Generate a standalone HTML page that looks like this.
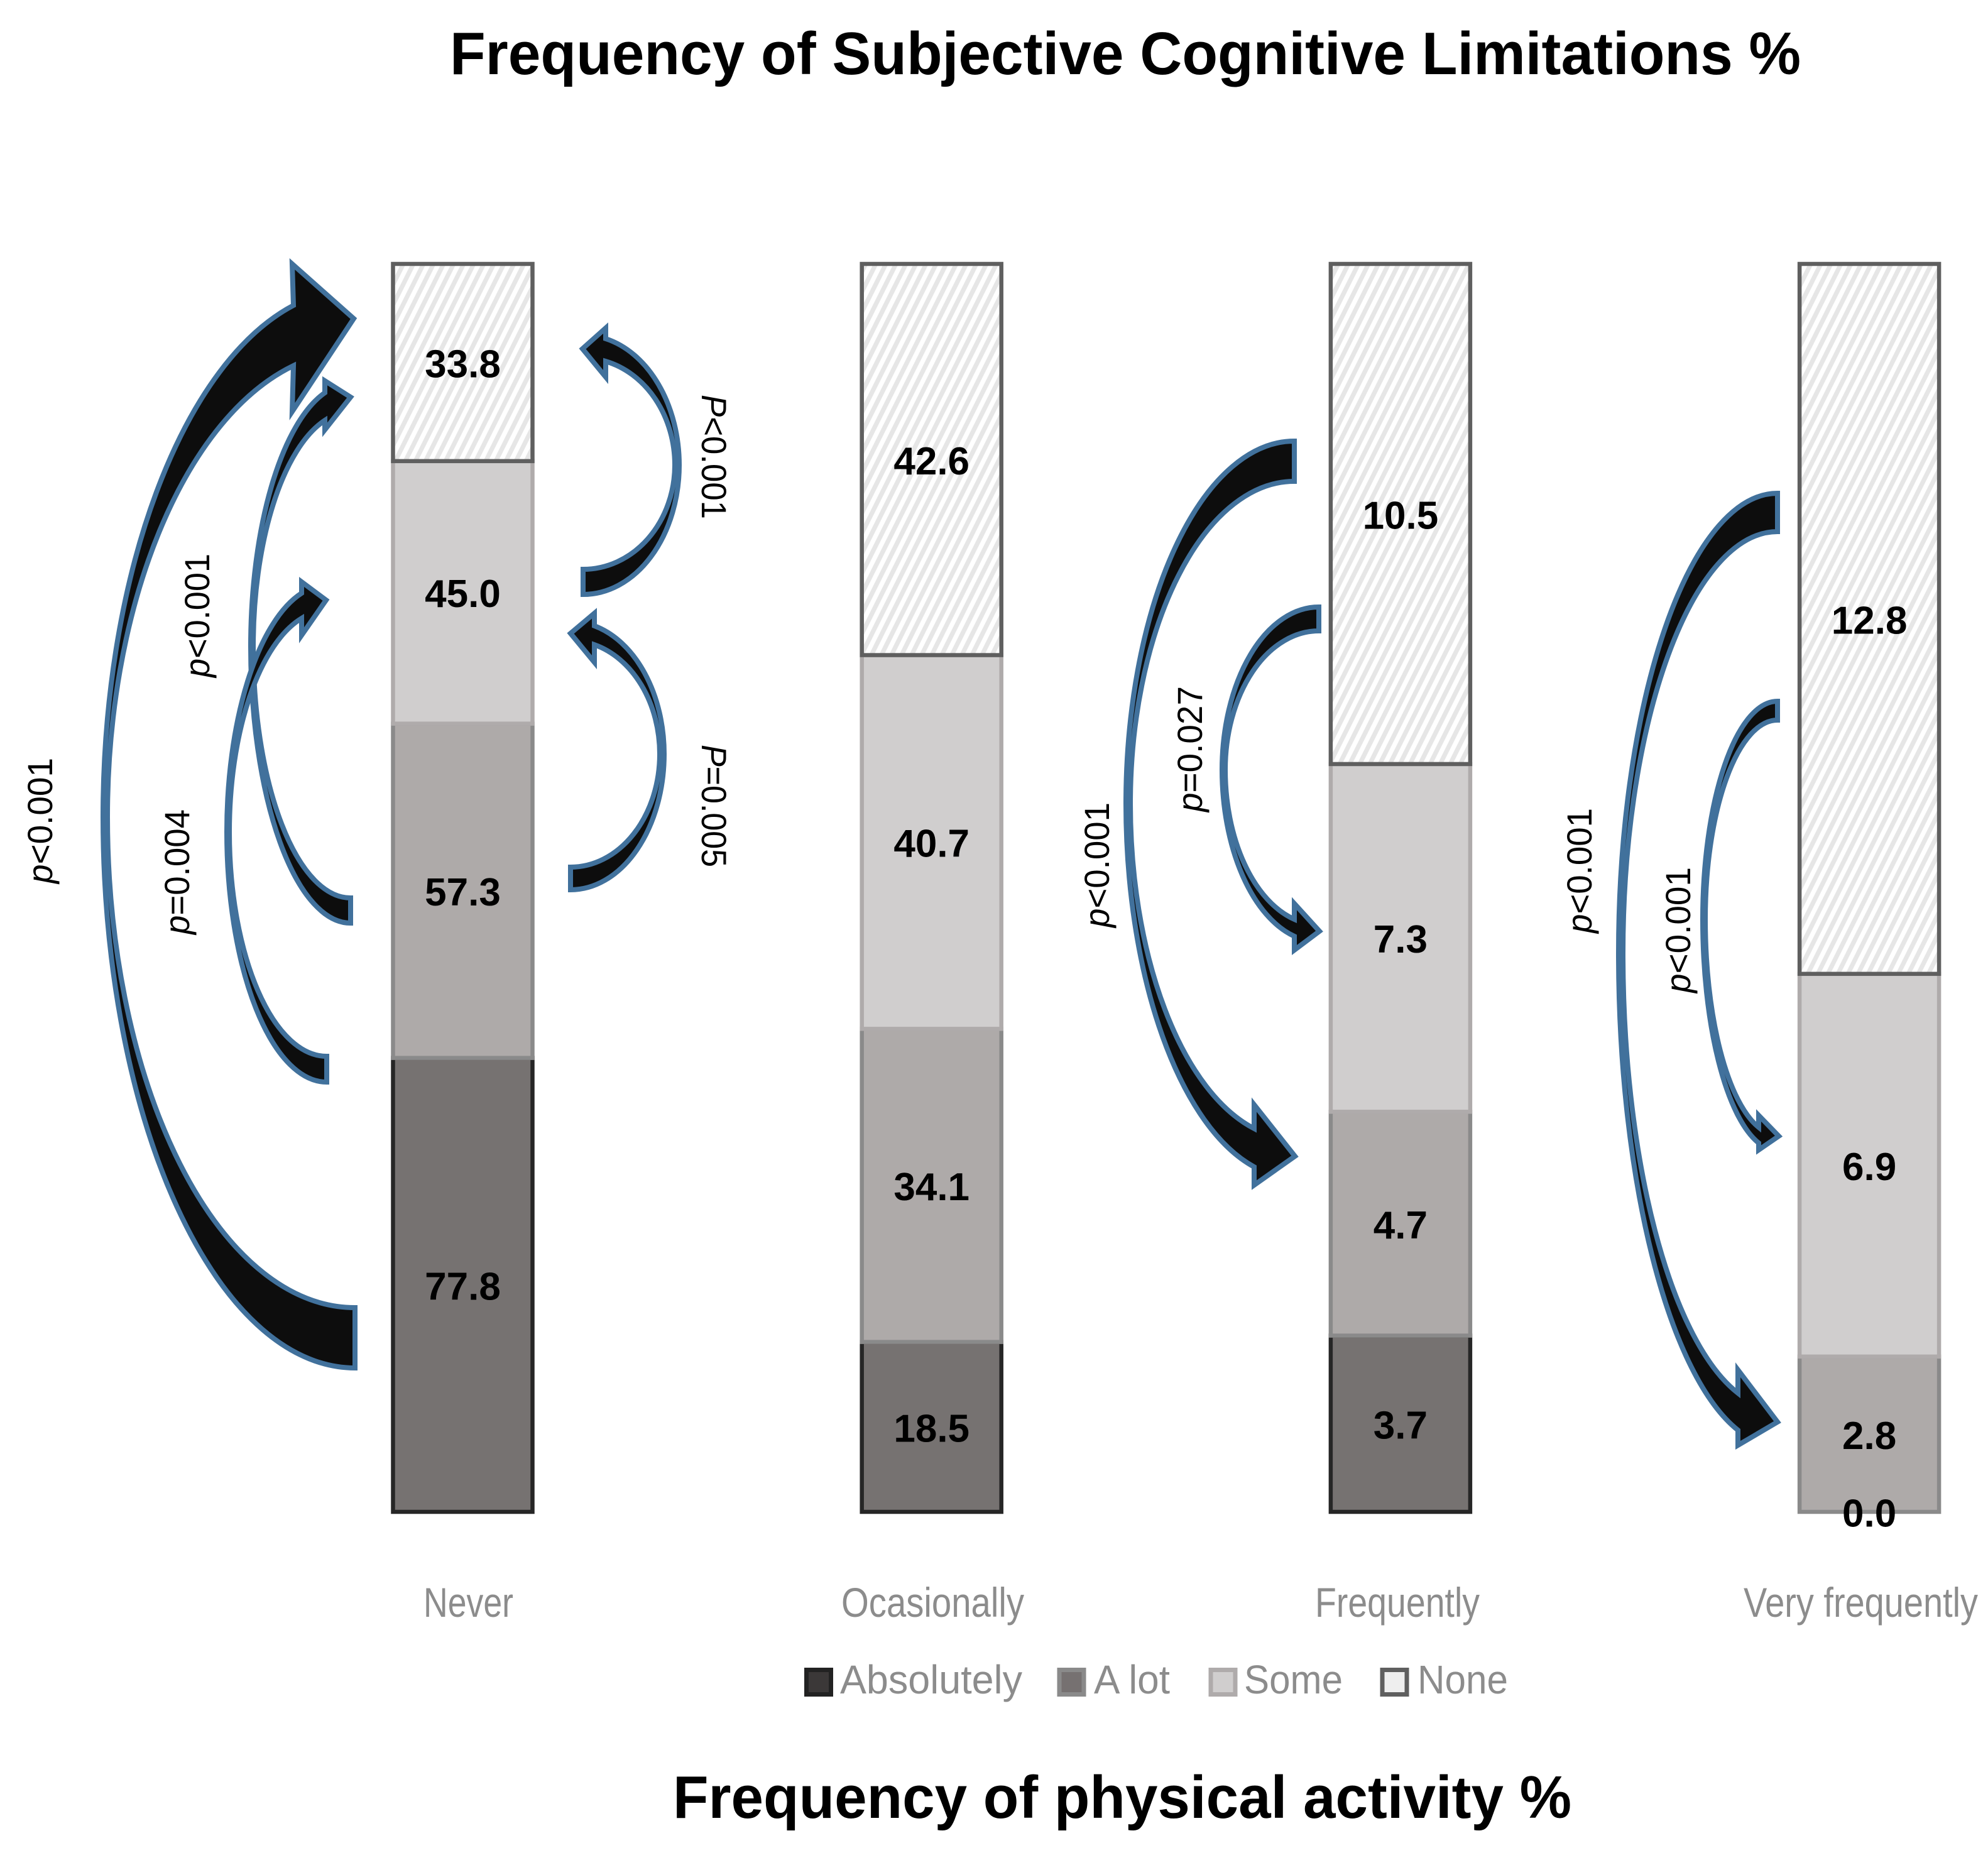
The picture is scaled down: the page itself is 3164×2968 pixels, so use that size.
<!DOCTYPE html>
<html lang="en">
<head>
<meta charset="utf-8">
<title>Frequency of Subjective Cognitive Limitations</title>
<style>
html,body{margin:0;padding:0;background:#fff;}
svg{display:block;}
text{font-family:"Liberation Sans",sans-serif;}
.head{font-weight:700;font-size:96px;fill:#000;}
.cat{font-size:66px;fill:#8c8c8c;}
.leg{font-size:64px;fill:#8c8c8c;}
.p{font-size:56px;fill:#000;}
.val{font-weight:700;font-size:62px;fill:#000;text-anchor:middle;dominant-baseline:central;}
</style>
</head>
<body>
<svg id="chart" xmlns="http://www.w3.org/2000/svg" width="3164" height="2968" viewBox="0 0 3164 2968">
<defs>
<pattern id="hatch" patternUnits="userSpaceOnUse" width="16" height="32">
<rect width="16" height="32" fill="#ffffff"/>
<polygon points="0,32 8,32 24,0 16,0" fill="#e6e6e6"/>
<polygon points="-16,32 -8,32 8,0 0,0" fill="#e6e6e6"/>
</pattern>
</defs>
<rect width="3164" height="2968" fill="#ffffff"/>
<text class="head" x="716" y="118" textLength="2150" lengthAdjust="spacingAndGlyphs">Frequency of Subjective Cognitive Limitations %</text>
<g id="bars"></g>
<g id="arrows"></g>
<g>
<text class="p" transform="translate(83 1406) rotate(-90)" textLength="200" lengthAdjust="spacingAndGlyphs"><tspan font-style="italic">p</tspan>&lt;0.001</text>
<text class="p" transform="translate(333 1078) rotate(-90)" textLength="197" lengthAdjust="spacingAndGlyphs"><tspan font-style="italic">p</tspan>&lt;0.001</text>
<text class="p" transform="translate(301 1487) rotate(-90)" textLength="199" lengthAdjust="spacingAndGlyphs"><tspan font-style="italic">p</tspan>=0.004</text>
<text class="p" transform="translate(1117 628) rotate(90)" textLength="198" lengthAdjust="spacingAndGlyphs"><tspan font-style="italic">P</tspan>&lt;0.001</text>
<text class="p" transform="translate(1117 1185) rotate(90)" textLength="195" lengthAdjust="spacingAndGlyphs"><tspan font-style="italic">P</tspan>=0.005</text>
<text class="p" transform="translate(1765 1476) rotate(-90)" textLength="199" lengthAdjust="spacingAndGlyphs"><tspan font-style="italic">p</tspan>&lt;0.001</text>
<text class="p" transform="translate(1913 1292) rotate(-90)" textLength="200" lengthAdjust="spacingAndGlyphs"><tspan font-style="italic">p</tspan>=0.027</text>
<text class="p" transform="translate(2533 1485) rotate(-90)" textLength="199" lengthAdjust="spacingAndGlyphs"><tspan font-style="italic">p</tspan>&lt;0.001</text>
<text class="p" transform="translate(2690 1580) rotate(-90)" textLength="200" lengthAdjust="spacingAndGlyphs"><tspan font-style="italic">p</tspan>&lt;0.001</text>
</g>
<g>
<text class="cat" x="674" y="2573" textLength="143" lengthAdjust="spacingAndGlyphs">Never</text>
<text class="cat" x="1339" y="2573" textLength="291" lengthAdjust="spacingAndGlyphs">Ocasionally</text>
<text class="cat" x="2093" y="2573" textLength="262" lengthAdjust="spacingAndGlyphs">Frequently</text>
<text class="cat" x="2775" y="2573" textLength="373" lengthAdjust="spacingAndGlyphs">Very frequently</text>
</g>
<g>
<g>
<rect x="1283.5" y="2657.5" width="39" height="39" fill="#3b3838" stroke="#222222" stroke-width="7"/>
<text class="leg" x="1337" y="2695" textLength="290" lengthAdjust="spacingAndGlyphs">Absolutely</text>
</g>
<g>
<rect x="1686" y="2657.5" width="39" height="39" fill="#767171" stroke="#8a8a8a" stroke-width="7"/>
<text class="leg" x="1741" y="2695" textLength="121" lengthAdjust="spacingAndGlyphs">A lot</text>
</g>
<g>
<rect x="1927" y="2657.5" width="39" height="39" fill="#d0cece" stroke="#afabab" stroke-width="7"/>
<text class="leg" x="1980" y="2695" textLength="157" lengthAdjust="spacingAndGlyphs">Some</text>
</g>
<g>
<rect x="2200" y="2657.5" width="39" height="39" fill="#eeeeee" stroke="#5f5f5f" stroke-width="7"/>
<text class="leg" x="2256" y="2695" textLength="144" lengthAdjust="spacingAndGlyphs">None</text>
</g>
</g>
<text class="head" x="1071" y="2893" textLength="1430" lengthAdjust="spacingAndGlyphs">Frequency of physical activity %</text>
<script>
// Chart data
var categories = ['Never', 'Ocasionally', 'Frequently', 'Very frequently'];
var absolutely = [77.8, 18.5, 3.7, 0.0];
var aLot = [57.3, 34.1, 4.7, 2.8];
var some = [45.0, 40.7, 7.3, 6.9];
var none = [33.8, 42.6, 10.5, 12.8];

var seriesList = [
  {key: 'absolutely', values: absolutely, fill: '#767271', stroke: '#262626'},
  {key: 'a-lot', values: aLot, fill: '#aeaaa9', stroke: '#8a8a8a'},
  {key: 'some', values: some, fill: '#d0cece', stroke: '#afabab'},
  {key: 'none', values: none, fill: 'url(#hatch)', stroke: '#5f5f5f'}
];

var NS = 'http://www.w3.org/2000/svg';
var plotTop = 420, plotBottom = 2406;
var firstCenter = 736.5, centerStep = 746.2, barWidth = 222;

function xCenter(i) { return firstCenter + i * centerStep; }
function yScale(share) { return plotBottom - share * (plotBottom - plotTop); }

var barsGroup = document.getElementById('bars');
var labelQueue = [];
categories.forEach(function (cat, i) {
  var total = 0;
  seriesList.forEach(function (s) { total += s.values[i]; });
  var cum = 0;
  var catKey = cat.toLowerCase().replace(/\s+/g, '-');
  seriesList.forEach(function (s) {
    var v = s.values[i];
    var y0 = yScale(cum / total);
    var y1 = yScale((cum + v) / total);
    cum += v;
    var r = document.createElementNS(NS, 'rect');
    r.setAttribute('x', xCenter(i) - barWidth / 2);
    r.setAttribute('y', y1);
    r.setAttribute('width', barWidth);
    r.setAttribute('height', y0 - y1);
    r.setAttribute('fill', s.fill);
    r.setAttribute('stroke', s.stroke);
    r.setAttribute('stroke-width', '6.5');
    
    
    barsGroup.appendChild(r);
    labelQueue.push({x: xCenter(i), y: (y0 + y1) / 2 + 3, v: v, name: catKey + '-' + s.key});
  });
});
labelQueue.forEach(function (l) {
  var t = document.createElementNS(NS, 'text');
  t.setAttribute('class', 'val');
  t.setAttribute('x', l.x);
  t.setAttribute('y', l.y);
  t.textContent = l.v.toFixed(1);
  
  
  barsGroup.appendChild(t);
});

// Curved annotation arrows (shapes drawn on top of the chart, not data marks)
var arrowShapes = [
  {name: 'arrow-never-absolutely-to-none', side: 'left', tailX: 565, tailOuter: 2177, tailInner: 2081, midY: 1300, outerX: 164, innerX: 171,
   shaftX: 467, shaftOuter: 486, shaftInner: 582, wingX: 465, wingOuter: 420, wingInner: 655, tipX: 563, tipY: 507},
  {name: 'arrow-never-alot-to-none', side: 'left', tailX: 558, tailOuter: 1469, tailInner: 1429, midY: 1029, outerX: 399, innerX: 403,
   shaftX: 517, shaftOuter: 625, shaftInner: 669, wingX: 517, wingOuter: 606, wingInner: 684, tipX: 558, tipY: 632},
  {name: 'arrow-never-absolutely-to-some', side: 'left', tailX: 520, tailOuter: 1722, tailInner: 1681, midY: 1324, outerX: 361, innerX: 365,
   shaftX: 480, shaftOuter: 944, shaftInner: 984, wingX: 480, wingOuter: 926, wingInner: 1011, tipX: 519, tipY: 955},
  {name: 'arrow-never-some-to-none', side: 'right', tailX: 928, tailOuter: 946, tailInner: 906, midY: 740, outerX: 1081, innerX: 1074,
   shaftX: 964, shaftOuter: 539, shaftInner: 575, wingX: 964, wingOuter: 522, wingInner: 600, tipX: 927, tipY: 555},
  {name: 'arrow-never-alot-to-some', side: 'right', tailX: 908, tailOuter: 1416, tailInner: 1380, midY: 1200, outerX: 1057, innerX: 1050,
   shaftX: 946, shaftOuter: 996, shaftInner: 1026, wingX: 946, wingOuter: 976, wingInner: 1054, tipX: 908, tipY: 1008},
  {name: 'arrow-frequently-none-to-alot', side: 'left', tailX: 2060, tailOuter: 702, tailInner: 766, midY: 1279, outerX: 1792, innerX: 1799,
   shaftX: 1996, shaftOuter: 1857, shaftInner: 1796, wingX: 1996, wingOuter: 1886, wingInner: 1758, tipX: 2061, tipY: 1840},
  {name: 'arrow-frequently-none-to-some', side: 'left', tailX: 2099, tailOuter: 966, tailInner: 1004, midY: 1225, outerX: 1945, innerX: 1950,
   shaftX: 2060, shaftOuter: 1490, shaftInner: 1463, wingX: 2060, wingOuter: 1512, wingInner: 1438, tipX: 2100, tipY: 1482},
  {name: 'arrow-very-frequently-none-to-alot', side: 'left', tailX: 2829, tailOuter: 785, tailInner: 846, midY: 1517, outerX: 2576, innerX: 2583,
   shaftX: 2766, shaftOuter: 2276, shaftInner: 2217, wingX: 2766, wingOuter: 2300, wingInner: 2180, tipX: 2829, tipY: 2263},
  {name: 'arrow-very-frequently-none-to-some', side: 'left', tailX: 2829, tailOuter: 1116, tailInner: 1146, midY: 1463, outerX: 2710, innerX: 2714,
   shaftX: 2799, shaftOuter: 1819, shaftInner: 1794, wingX: 2799, wingOuter: 1830, wingInner: 1775, tipX: 2831, tipY: 1808}
];

function arcRy(cx, rx, midY, x, y) {
  var k = (cx - x) / rx;
  return Math.abs(y - midY) / Math.sqrt(Math.max(0.05, 1 - k * k));
}
function arrowPath(a) {
  var tailBelow = a.tailOuter > a.midY;
  var sweep = ((a.side === 'left') === tailBelow) ? 1 : 0;
  var back = 1 - sweep;
  var rxO = Math.abs(a.tailX - a.outerX);
  var rxI = Math.abs(a.tailX - a.innerX);
  var ryTailO = Math.abs(a.tailOuter - a.midY);
  var ryTailI = Math.abs(a.tailInner - a.midY);
  var ryHeadO = arcRy(a.tailX, rxO, a.midY, a.shaftX, a.shaftOuter);
  var ryHeadI = arcRy(a.tailX, rxI, a.midY, a.shaftX, a.shaftInner);
  return 'M' + a.tailX + ' ' + a.tailOuter +
    ' A' + rxO + ' ' + ryTailO + ' 0 0 ' + sweep + ' ' + a.outerX + ' ' + a.midY +
    ' A' + rxO + ' ' + ryHeadO + ' 0 0 ' + sweep + ' ' + a.shaftX + ' ' + a.shaftOuter +
    ' L' + a.wingX + ' ' + a.wingOuter +
    ' L' + a.tipX + ' ' + a.tipY +
    ' L' + a.wingX + ' ' + a.wingInner +
    ' L' + a.shaftX + ' ' + a.shaftInner +
    ' A' + rxI + ' ' + ryHeadI + ' 0 0 ' + back + ' ' + a.innerX + ' ' + a.midY +
    ' A' + rxI + ' ' + ryTailI + ' 0 0 ' + back + ' ' + a.tailX + ' ' + a.tailInner + ' Z';
}
var arrowsGroup = document.getElementById('arrows');
arrowShapes.forEach(function (a) {
  var p = document.createElementNS(NS, 'path');
  p.setAttribute('d', arrowPath(a));
  p.setAttribute('fill', '#0d0d0d');
  p.setAttribute('stroke', '#41719c');
  p.setAttribute('stroke-width', '8');
  p.setAttribute('stroke-linejoin', 'miter');
  p.setAttribute('stroke-miterlimit', '8');
  
  
  arrowsGroup.appendChild(p);
});
</script>
</svg>
</body>
</html>
